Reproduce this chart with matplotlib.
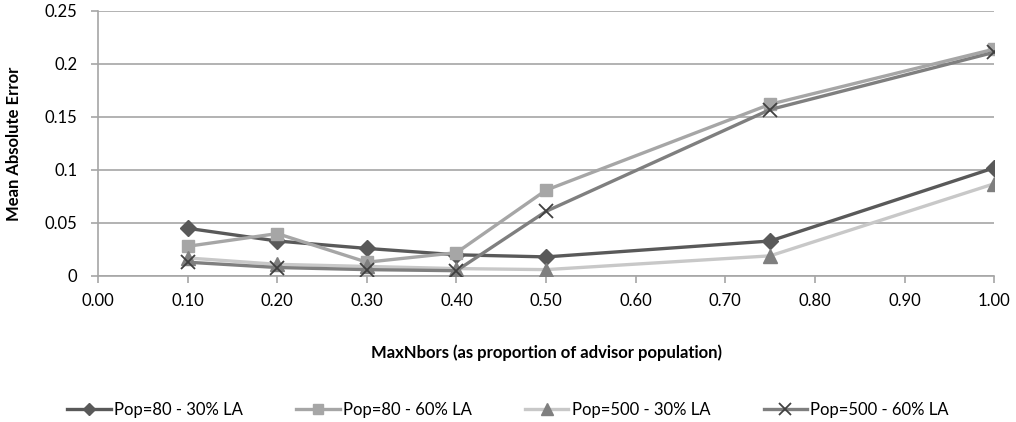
import numpy as np
import matplotlib
matplotlib.use("Agg")
import matplotlib.pyplot as plt

plt.rcParams['font.family'] = ['Lato', 'DejaVu Sans']

# x values (MaxNbors as proportion)
max_nbors = [0.10, 0.20, 0.30, 0.40, 0.50, 0.75, 1.00]

pop80_30 = [0.045, 0.033, 0.026, 0.020, 0.018, 0.033, 0.102]
pop80_60 = [0.028, 0.040, 0.013, 0.022, 0.081, 0.162, 0.214]
pop500_30 = [0.017, 0.011, 0.009, 0.007, 0.006, 0.019, 0.087]
pop500_60 = [0.013, 0.008, 0.006, 0.005, 0.061, 0.157, 0.211]

labels = ["Pop=80 - 30% LA", "Pop=80 - 60% LA", "Pop=500 - 30% LA", "Pop=500 - 60% LA"]
x_ticks = np.arange(0, 1.01, 0.1)
y_ticks = [0, 0.05, 0.1, 0.15, 0.2, 0.25]
y_ticklabels = ["0", "0.05", "0.1", "0.15", "0.2", "0.25"]

fig = plt.figure(figsize=(10.16, 4.22), dpi=100)
ax = fig.add_axes([0.0965, 0.346, 0.882, 0.628])

grid_c = '#a6a6a6'
ax.plot(max_nbors, pop80_30, color='#595959', lw=2.4, marker='D', ms=8,
        mfc='#595959', mec='#595959', label=labels[0], zorder=3)
ax.plot(max_nbors, pop80_60, color='#a6a6a6', lw=2.4, marker='s', ms=9,
        mfc='#a6a6a6', mec='#a6a6a6', label=labels[1], zorder=3)
ax.plot(max_nbors, pop500_30, color='#c8c8c8', lw=2.4, marker='^', ms=10,
        mfc='#7f7f7f', mec='#7f7f7f', label=labels[2], zorder=3)
ax.plot(max_nbors, pop500_60, color='#7f7f7f', lw=2.4, marker='x', ms=10, mew=1.3,
        mfc='#404040', mec='#404040', label=labels[3], zorder=3)

ax.set_xlim(0, 1.0)
ax.set_ylim(0, 0.25)
ax.set_xticks(x_ticks)
ax.set_xticklabels(["%.2f" % t for t in x_ticks], fontsize=12)
ax.set_yticks(y_ticks)
ax.set_yticklabels(y_ticklabels, fontsize=12)

ax.yaxis.grid(True, color=grid_c, lw=1.2)
ax.set_axisbelow(True)
for s in ['top', 'right']:
    ax.spines[s].set_visible(False)
ax.spines['left'].set_color(grid_c)
ax.spines['bottom'].set_color(grid_c)
ax.spines['left'].set_linewidth(1.2)
ax.spines['bottom'].set_linewidth(1.2)
ax.tick_params(axis='both', color=grid_c, width=1.2, length=5, direction='out')
ax.tick_params(axis='y', pad=10)
ax.tick_params(axis='x', pad=7)

ax.set_xlabel("MaxNbors (as proportion of advisor population)", fontsize=12,
              fontweight='bold', labelpad=26)
ax.set_ylabel("Mean Absolute Error", fontsize=12, fontweight='bold', labelpad=16)

fig.legend(loc='lower center', bbox_to_anchor=(0.5, -0.025), ncol=4, frameon=False,
           fontsize=12, handlelength=2.6, handletextpad=0.2, columnspacing=3.2,
           markerscale=0.8)

fig.savefig("out.png", dpi=100)
